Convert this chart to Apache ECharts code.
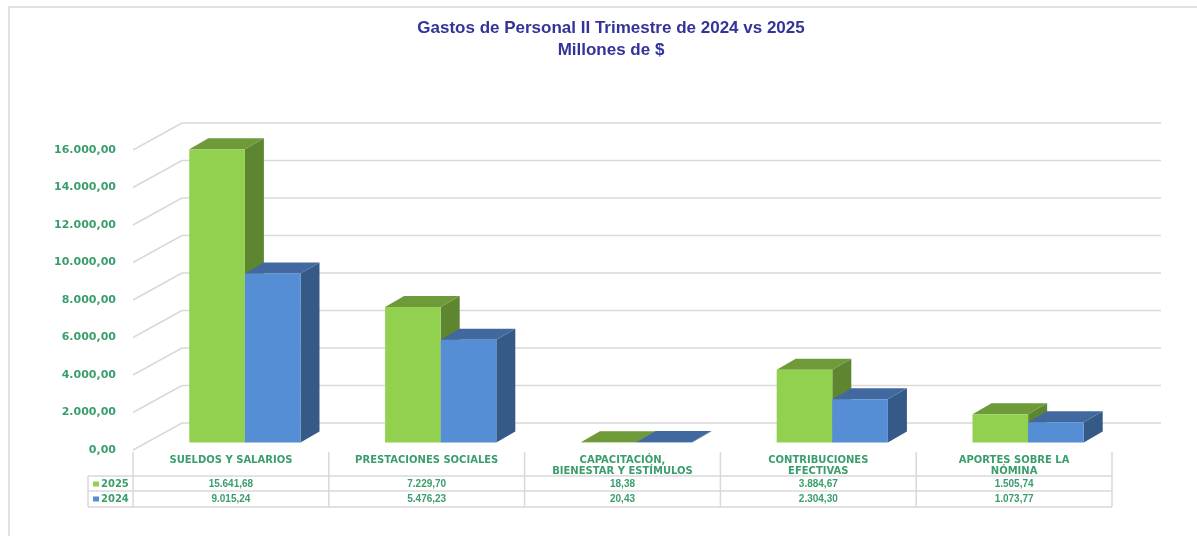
<!DOCTYPE html>
<html>
<head>
	<title>Gastos de Personal</title>
	<meta charset="utf-8" />
	<script type="text/javascript" src="https://cdn.jsdelivr.net/npm/echarts@6/dist/echarts.min.js"></script>
	<style type="text/css">
		html, body { margin: 0; padding: 0; background: #fff; }
		#container { width: 1197px; height: 536px; }
	</style>
</head>
<body>
<div id="container"></div>
<script type="text/javascript">
	// datos del gráfico (millones de $)
	var categories = [
		'SUELDOS Y SALARIOS',
		'PRESTACIONES SOCIALES',
		'CAPACITACIÓN,\nBIENESTAR Y ESTÍMULOS',
		'CONTRIBUCIONES\nEFECTIVAS',
		'APORTES SOBRE LA\nNÓMINA'
	];
	var years = ['2025', '2024'];
	var values2025 = [15641.68, 7229.70, 18.38, 3884.67, 1505.74];
	var values2024 = [9015.24, 5476.23, 20.43, 2304.30, 1073.77];
	var yTicks = [0, 2000, 4000, 6000, 8000, 10000, 12000, 14000, 16000];

	var TEXT_GREEN = '#3a9e6c';
	var LINE_GRAY = '#d9d9d9';
	var colors = [
		{ front: '#92d050', top: '#6f9a3a', side: '#5e8530' },   // 2025
		{ front: '#558ed5', top: '#41699f', side: '#355a88' }    // 2024
	];
	var BACK = [49, -27];        // profundidad de la pared del fondo
	var BAR_SHIFT = [14, -7.5];  // plano frontal de las barras
	var BAR_DEPTH = [19, -11];   // profundidad de cada barra
	var BAR_RATIO = 0.284;

	// 15641.68 -> "15.641,68"
	function fmt(v) {
		var p = v.toFixed(2).split('.');
		return p[0].replace(/\B(?=(\d{3})+(?!\d))/g, '.') + ',' + p[1];
	}

	function line(x1, y1, x2, y2) {
		return { type: 'line', shape: { x1: x1, y1: y1, x2: x2, y2: y2 },
			style: { stroke: LINE_GRAY, lineWidth: 1.5 } };
	}

	function barSeries(name, data, idx) {
		var c = colors[idx];
		return {
			type: 'custom',
			name: name,
			data: data.map(function (v, i) { return [i, v]; }),
			renderItem: function (params, api) {
				var i = api.value(0), v = api.value(1);
				var base = api.coord([i + 0.5, 0]);
				var top = api.coord([i + 0.5, v]);
				var bw = api.size([1, 0])[0] * BAR_RATIO;
				var x0 = base[0] + BAR_SHIFT[0] + (idx === 0 ? -bw : 0);
				var yb = base[1] + BAR_SHIFT[1], yt = top[1] + BAR_SHIFT[1];
				var dx = BAR_DEPTH[0], dy = BAR_DEPTH[1];
				return { type: 'group', children: [
					{ type: 'polygon', shape: { points: [[x0 + bw, yt], [x0 + bw + dx, yt + dy], [x0 + bw + dx, yb + dy], [x0 + bw, yb]] },
						style: { fill: c.side } },
					{ type: 'polygon', shape: { points: [[x0, yt], [x0 + bw, yt], [x0 + bw + dx, yt + dy], [x0 + dx, yt + dy]] },
						style: { fill: c.top } },
					{ type: 'rect', shape: { x: x0, y: yt, width: bw, height: yb - yt }, style: { fill: c.front } }
				] };
			}
		};
	}

	var chart = echarts.init(document.getElementById('container'));

	var option = {
		backgroundColor: '#fff',
		animation: false,
		title: {
			text: 'Gastos de Personal II Trimestre de 2024 vs 2025\nMillones de $',
			left: 611,
			top: 17,
			padding: 0,
			textAlign: 'center',
			textStyle: {
				fontFamily: 'Liberation Sans',
				fontSize: 17,
				fontWeight: 'bold',
				color: '#333399',
				lineHeight: 22
			}
		},
		graphic: [{
			type: 'rect',
			shape: { x: 9, y: 7, width: 1400, height: 700 },
			style: { fill: 'none', stroke: LINE_GRAY, lineWidth: 1.5 },
			silent: true
		}],
		grid: { left: 133, top: 150, width: 979, height: 300 },
		xAxis: { type: 'value', min: 0, max: categories.length, show: false },
		yAxis: {
			type: 'value',
			min: 0,
			max: 16000,
			interval: 2000,
			axisLine: { show: false },
			axisTick: { show: false },
			splitLine: { show: false },
			axisLabel: {
				margin: 17,
				color: TEXT_GREEN,
				fontFamily: 'DejaVu Sans',
				fontWeight: 'bold',
				fontSize: 11,
				formatter: function (v) { return fmt(v); }
			}
		},
		series: [
			// paredes: líneas diagonales laterales y rejilla del fondo
			{
				type: 'custom',
				silent: true,
				data: yTicks.map(function (v) { return [0, v]; }),
				renderItem: function (params, api) {
					var v = api.value(1);
					var p = api.coord([0, v]);
					var q = api.coord([categories.length, v]);
					return { type: 'group', children: [
						line(p[0], p[1], p[0] + BACK[0], p[1] + BACK[1]),
						line(p[0] + BACK[0], p[1] + BACK[1], q[0] + BACK[0], q[1] + BACK[1])
					] };
				}
			},
			barSeries(years[0], values2025, 0),
			barSeries(years[1], values2024, 1),
			// tabla de datos
			{
				type: 'custom',
				silent: true,
				data: categories.map(function (c, i) { return [i]; }),
				renderItem: function (params, api) {
					var i = api.value(0);
					var l = api.coord([i, 0]), r = api.coord([i + 1, 0]);
					var y0 = l[1], cx = (l[0] + r[0]) / 2;
					var kids = [
						line(r[0], y0 + 2, r[0], y0 + 57),
						line(l[0], y0 + 26, r[0], y0 + 26),
						line(l[0], y0 + 41, r[0], y0 + 41),
						line(l[0], y0 + 57, r[0], y0 + 57),
						{ type: 'text', x: cx, y: y0 + 5, style: {
							text: categories[i], fill: TEXT_GREEN, align: 'center', verticalAlign: 'top',
							font: 'bold 10px "DejaVu Sans"', lineHeight: 11 } },
						{ type: 'text', x: cx, y: y0 + 34, style: {
							text: fmt(values2025[i]), fill: TEXT_GREEN, align: 'center', verticalAlign: 'middle',
							font: 'bold 10px "Liberation Sans"' } },
						{ type: 'text', x: cx, y: y0 + 49, style: {
							text: fmt(values2024[i]), fill: TEXT_GREEN, align: 'center', verticalAlign: 'middle',
							font: 'bold 10px "Liberation Sans"' } }
					];
					if (i === 0) kids.push(line(l[0], y0 + 2, l[0], y0 + 57));
					return { type: 'group', children: kids };
				}
			},
			// columna de leyenda de la tabla
			{
				type: 'custom',
				silent: true,
				data: [[0]],
				renderItem: function (params, api) {
					var l = api.coord([0, 0]);
					var x1 = l[0] - 45, y0 = l[1];
					var kids = [
						line(x1, y0 + 26, l[0], y0 + 26),
						line(x1, y0 + 41, l[0], y0 + 41),
						line(x1, y0 + 57, l[0], y0 + 57),
						line(x1, y0 + 26, x1, y0 + 57)
					];
					years.forEach(function (y, k) {
						var cy = y0 + 34 + k * 15;
						kids.push({ type: 'rect', shape: { x: x1 + 5, y: cy - 2.5, width: 6, height: 5 },
							style: { fill: colors[k].front } });
						kids.push({ type: 'text', x: x1 + 13, y: cy, style: {
							text: y, fill: TEXT_GREEN, align: 'left', verticalAlign: 'middle',
							font: 'bold 10px "DejaVu Sans"' } });
					});
					return { type: 'group', children: kids };
				}
			}
		]
	};

	chart.setOption(option);
</script>
</body>
</html>
